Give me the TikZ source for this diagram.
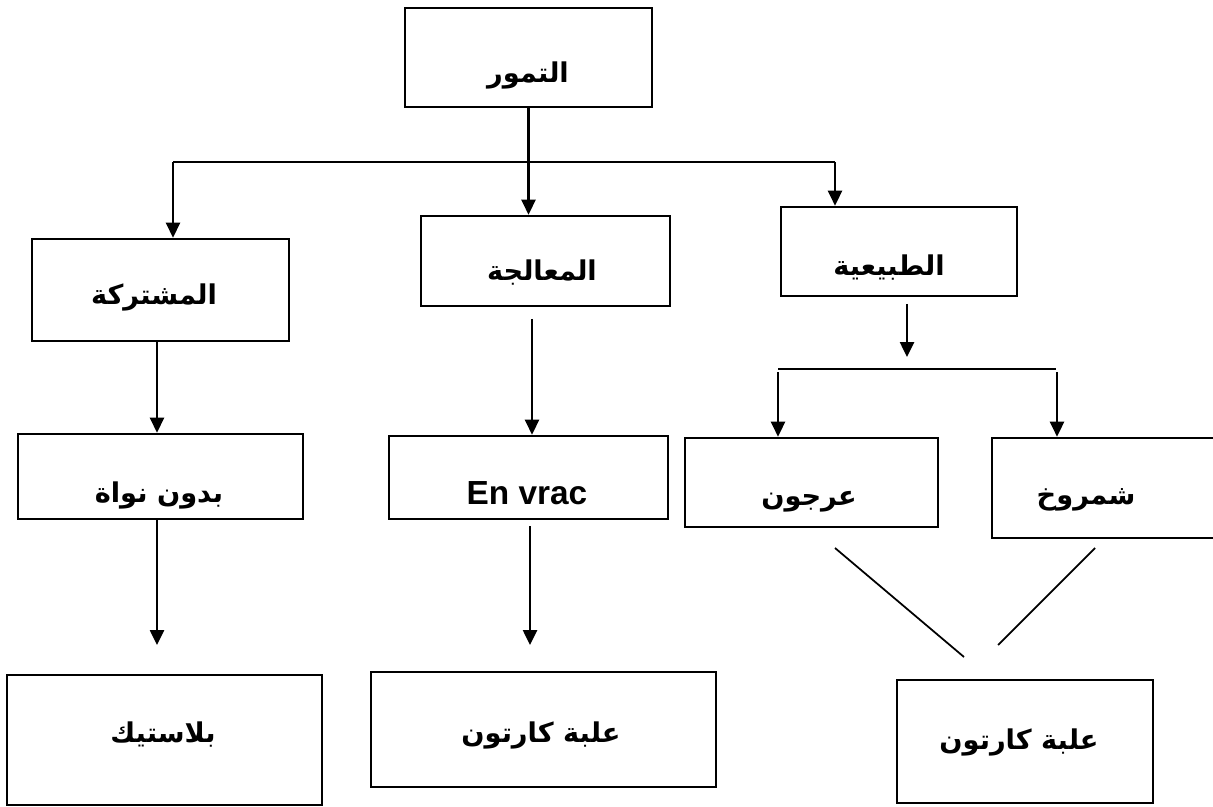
\documentclass[tikz,border=0pt]{standalone}
\usepackage{fontspec}
\setmainfont{Liberation Sans}
\newfontfamily\arabicfont[Script=Arabic]{DejaVu Sans}
\TeXXeTstate=1
\usetikzlibrary{arrows.meta,fit}
\newcommand{\ar}[1]{{\arabicfont\bfseries\beginR #1\endR}}
\begin{document}
\begin{tikzpicture}[x=0.02cm,y=-0.02cm,
  box/.style={draw=black,line width=1.5pt,inner sep=0pt,rectangle},
  lbl/.style={inner sep=0pt,font=\fontsize{15.5}{18}\selectfont},
  lbllat/.style={inner sep=0pt,font=\fontsize{19}{21}\selectfont\bfseries},
  conn/.style={line width=1.25pt},
  arr/.style={conn,-{Triangle[length=8.5pt,width=8pt]}},
  diag/.style={line width=1pt}]
\useasboundingbox (0,0) rectangle (1213,807);
\clip (0,0) rectangle (1213,807);

% boxes
\node[box,fit={(405,8) (652,107)}]   (tmr)   {};
\node[box,fit={(32,239) (289,341)}]  (mush)  {};
\node[box,fit={(421,216) (670,306)}] (mu)    {};
\node[box,fit={(781,207) (1017,296)}] (tab)  {};
\node[box,fit={(18,434) (303,519)}]  (bdn)   {};
\node[box,fit={(389,436) (668,519)}] (env)   {};
\node[box,fit={(685,438) (938,527)}] (orj)   {};
\node[box,fit={(992,438) (1230,538)}] (shm)  {};
\node[box,fit={(7,675) (322,805)}]   (plast) {};
\node[box,fit={(371,672) (716,787)}] (krt1)  {};
\node[box,fit={(897,680) (1153,803)}] (krt2) {};

% labels
\node[lbl] (tmr-t)   at (528,75)  {\ar{التمور}};
\node[lbl] (mush-t)  at (154,297) {\ar{المشتركة}};
\node[lbl] (mu-t)    at (542,273) {\ar{المعالجة}};
\node[lbl] (tab-t)   at (889,268) {\ar{الطبيعية}};
\node[lbl] (bdn-t)   at (159,495) {\ar{بدون نواة}};
\node[lbllat] (env-t) at (527,493) {En vrac};
\node[lbl] (orj-t)   at (809,502) {\ar{عرجون}};
\node[lbl] (shm-t)   at (1086,500) {\ar{شمروخ}};
\node[lbl] (plast-t) at (163,735) {\ar{بلاستيك}};
\node[lbl] (krt1-t)  at (541,735) {\ar{علبة كارتون}};
\node[lbl] (krt2-t)  at (1019,742) {\ar{علبة كارتون}};

% first branching
\coordinate (hl) at (173,162);
\coordinate (hr) at (835,162);
\draw[conn] (hl) -- (hr);
\draw[arr] (tmr.south) -- (tmr.south |- mu.north);
\draw[arr] (hl) -- (hl |- mush.north);
\draw[arr] (hr) -- (hr |- tab.north);

% vertical chains
\coordinate (mush-o) at (157,341);
\draw[arr] (mush-o) -- (mush-o |- bdn.north);
\coordinate (mu-o) at (532,319);
\draw[arr] (mu-o) -- (mu-o |- env.north);
\coordinate (plast-i) at (157,645);
\draw[arr] (plast-i |- bdn.south) -- (plast-i);
\coordinate (env-o) at (530,526);
\coordinate (krt1-i) at (530,645);
\draw[arr] (env-o) -- (krt1-i);

% second branching
\coordinate (tab-o) at (907,304);
\coordinate (tab-i) at (907,357);
\draw[arr] (tab-o) -- (tab-i);
\coordinate (sl) at (778,369);
\coordinate (sr) at (1056,369);
\draw[conn] (sl) -- (sr);
\coordinate (sl2) at (778,372);
\coordinate (sr2) at (1057,372);
\draw[arr] (sl2) -- (sl2 |- orj.north);
\draw[arr] (sr2) -- (sr2 |- shm.north);

% joining lines
\coordinate (ja) at (835,548);
\coordinate (jb) at (964,657);
\coordinate (jc) at (1095,548);
\coordinate (jd) at (998,645);
\draw[diag] (ja) -- (jb);
\draw[diag] (jc) -- (jd);
\end{tikzpicture}
\end{document}
